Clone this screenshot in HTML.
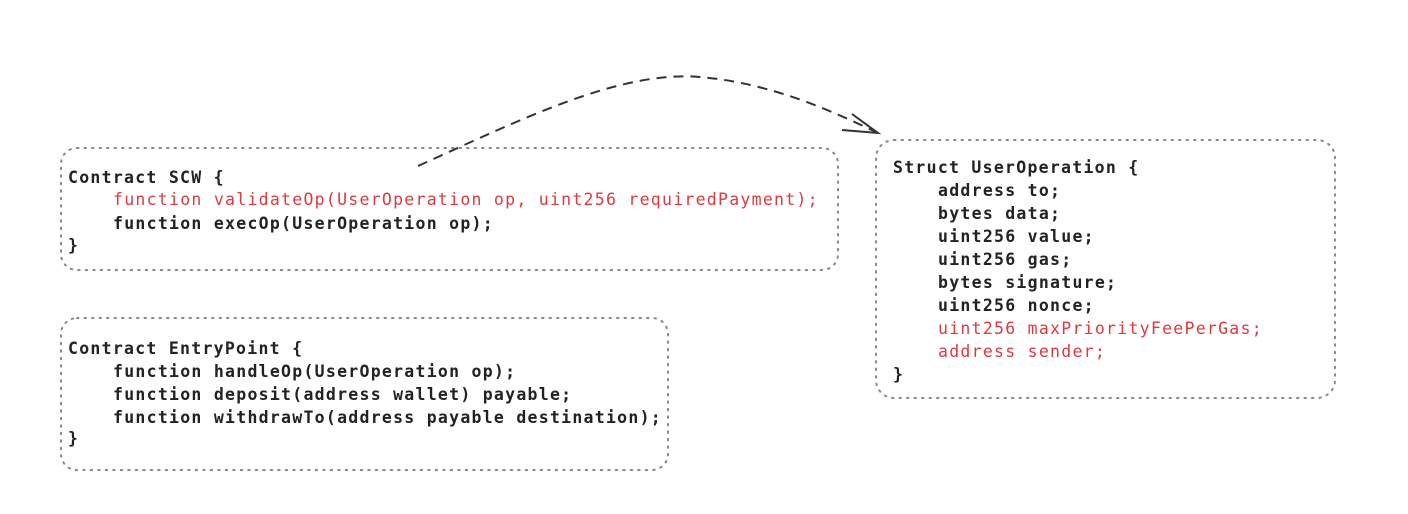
<!DOCTYPE html>
<html><head><style>
body{margin:0;background:#fff;}
svg{display:block}
text{font-family:"DejaVu Sans Mono","Liberation Mono",monospace;font-size:16.5px;letter-spacing:1.27px;fill:#222;font-weight:bold;}
.r{fill:#e0393e;font-weight:normal}
</style></head><body>
<svg width="1408" height="514" viewBox="0 0 1408 514">
<g fill="none" stroke="#888" stroke-width="2" stroke-dasharray="1.5 6" stroke-linecap="round">
<rect x="61" y="148" width="777" height="122" rx="16"/>
<rect x="61" y="318" width="607" height="152" rx="16"/>
<rect x="876" y="140" width="459" height="258" rx="18"/>
</g>
<path d="M418,166 C520,120 620,70 700,77 C770,83 830,110 878,133" fill="none" stroke="#333" stroke-width="2" stroke-dasharray="10 7"/>
<path d="M852,114 L878,133 L842,130" fill="none" stroke="#333" stroke-width="2"/>
<text x="68" y="183">Contract SCW {</text>
<text x="113" y="205" class="r">function validateOp(UserOperation op, uint256 requiredPayment);</text>
<text x="113" y="229">function execOp(UserOperation op);</text>
<text x="68" y="251">}</text>
<text x="68" y="354">Contract EntryPoint {</text>
<text x="113" y="377">function handleOp(UserOperation op);</text>
<text x="113" y="400">function deposit(address wallet) payable;</text>
<text x="113" y="423">function withdrawTo(address payable destination);</text>
<text x="68" y="444">}</text>
<text x="893" y="173">Struct UserOperation {</text>
<text x="938" y="196">address to;</text>
<text x="938" y="219">bytes data;</text>
<text x="938" y="242">uint256 value;</text>
<text x="938" y="265">uint256 gas;</text>
<text x="938" y="288">bytes signature;</text>
<text x="938" y="311">uint256 nonce;</text>
<text x="938" y="334" class="r">uint256 maxPriorityFeePerGas;</text>
<text x="938" y="357" class="r">address sender;</text>
<text x="893" y="380">}</text>
</svg>
</body></html>
